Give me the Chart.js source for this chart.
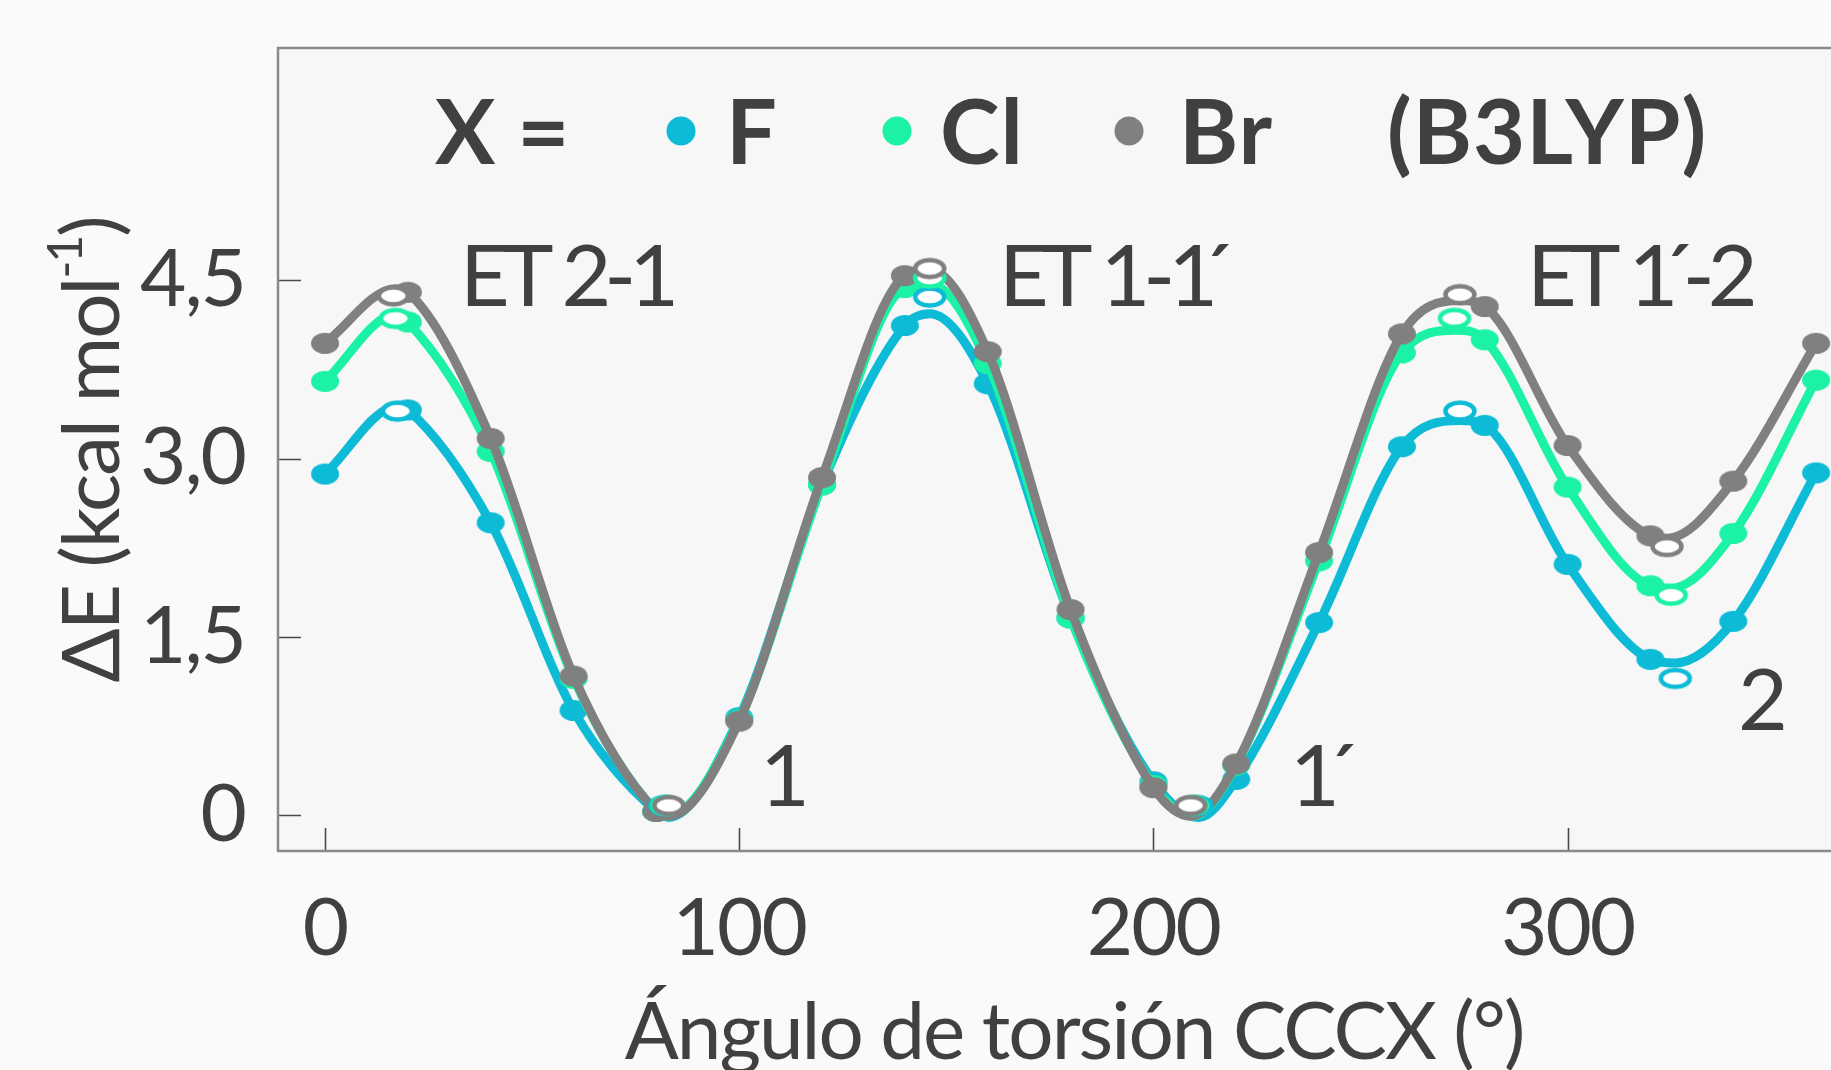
<!DOCTYPE html>
<html lang="es">
<head>
<meta charset="UTF-8">
<title>ΔE vs ángulo de torsión CCCX (B3LYP)</title>
<script src="https://cdn.jsdelivr.net/npm/chart.js"></script>
<style>
  html, body { margin: 0; padding: 0; background: #fafafa; }
  canvas { display: block; }
</style>
</head>
<body>
<canvas id="chartTorsion" width="1831" height="1070"></canvas>
<script>
// scanned torsion angles (deg) - filled dots
const angles = [0, 20, 40, 60, 80, 100, 120, 140, 160, 180, 200, 220, 240, 260, 280, 300, 320, 340, 360];

// ΔE (kcal/mol) at each scanned angle
const fluor = [2.87, 3.41, 2.46, 0.88, 0.03, 0.82, 2.78, 4.12, 3.63, 1.66, 0.28, 0.30, 1.62, 3.10, 3.28, 2.11, 1.31, 1.63, 2.88];
const chlor = [3.65, 4.15, 3.06, 1.15, 0.03, 0.80, 2.78, 4.44, 3.80, 1.66, 0.25, 0.42, 2.14, 3.89, 4.00, 2.76, 1.93, 2.37, 3.66];
const brom  = [3.97, 4.40, 3.17, 1.17, 0.03, 0.79, 2.84, 4.54, 3.90, 1.73, 0.23, 0.43, 2.21, 4.05, 4.28, 3.11, 2.35, 2.81, 3.97];

// turning points of the fitted curves
const fluorTurnX = [17.5, 83, 146, 211, 274, 326];
const fluorTurnY = [3.44, -0.02, 4.22, -0.02, 3.32, 1.28];
const chlorTurnX = [17, 82.5, 146, 209.5, 273, 325];
const chlorTurnY = [4.21, -0.01, 4.47, -0.01, 4.08, 1.91];
const bromTurnX  = [17, 83, 146, 209, 274, 324];
const bromTurnY  = [4.43, -0.01, 4.59, -0.01, 4.33, 2.33];

// optimized stationary points (open markers)
const fluorStatX = [17.5, 82, 146, 210.5, 274, 326];
const fluorStatY = [3.40, 0.08, 4.36, 0.08, 3.40, 1.15];
const chlorStatX = [17, 82.5, 146, 209.5, 272.7, 325];
const chlorStatY = [4.18, 0.08, 4.52, 0.08, 4.18, 1.85];
const bromStatX  = [16.5, 83, 146, 209, 274, 324];
const bromStatY  = [4.37, 0.08, 4.60, 0.08, 4.38, 2.26];

const xTicks = [0, 100, 200, 300];
const yTicks = [0, 1.5, 3.0, 4.5];

const TEXT = '#404040';
const FONT = 'Lato, "Open Sans", sans-serif';

// ellipse shaped markers (figure is slightly stretched horizontally)
function ellipse(w, h, fill, stroke, lw) {
    const c = document.createElement('canvas');
    c.width = w + 2 * (lw || 0) + 2;
    c.height = h + 2 * (lw || 0) + 2;
    const g = c.getContext('2d');
    g.beginPath();
    g.ellipse(c.width / 2, c.height / 2, w / 2, h / 2, 0, 0, 2 * Math.PI);
    g.fillStyle = fill;
    g.fill();
    if (stroke) { g.lineWidth = lw; g.strokeStyle = stroke; g.stroke(); }
    return c;
}

const series = [
    { name: 'F',  color: '#0EBBD6', dots: fluor, turnX: fluorTurnX, turnY: fluorTurnY, statX: fluorStatX, statY: fluorStatY },
    { name: 'Cl', color: '#1CF2A6', dots: chlor, turnX: chlorTurnX, turnY: chlorTurnY, statX: chlorStatX, statY: chlorStatY },
    { name: 'Br', color: '#808080', dots: brom,  turnX: bromTurnX,  turnY: bromTurnY,  statX: bromStatX,  statY: bromStatY }
];

function linePoints(s) {
    const pts = angles.map((a, i) => ({ x: a, y: s.dots[i], dot: true }));
    s.turnX.forEach((x, i) => pts.push({ x: x, y: s.turnY[i], dot: false }));
    return pts.sort((p, q) => p.x - q.x);
}

const datasets = [];
// open markers on top, Br above Cl above F
series.slice().reverse().forEach((s, k) => {
    datasets.push({
        label: s.name + ' est.',
        data: s.statX.map((x, i) => ({ x: x, y: s.statY[i] })),
        showLine: false,
        pointStyle: ellipse(29, 17, '#ffffff', s.color, 4.5),
        pointRadius: 10,
        order: k
    });
});
series.slice().reverse().forEach((s, k) => {
    datasets.push({
        label: s.name,
        data: linePoints(s),
        borderColor: s.color,
        borderWidth: 9,
        cubicInterpolationMode: 'monotone',
        pointStyle: ellipse(28, 21, s.color),
        pointRadius: ctx => (ctx.raw && ctx.raw.dot) ? 10 : 0,
        order: 3 + k
    });
});

// draws text; the acute prime (´) sits tight against the preceding digit
function label(ctx, text, x, y, size, weight, spacing) {
    ctx.font = (weight || 'normal') + ' ' + size + 'px ' + FONT;
    ctx.letterSpacing = spacing || '0px';
    ctx.fillStyle = TEXT;
    const parts = text.split('´');
    let px = x;
    parts.forEach((p, i) => {
        if (i > 0) {
            px -= 12;
            ctx.fillText('´', px, y);
            px += ctx.measureText('´').width - 4;
        }
        ctx.fillText(p, px, y);
        px += ctx.measureText(p).width;
    });
}

const decor = {
    id: 'decor',
    beforeLayout(chart) { chart.ctx.letterSpacing = '-2px'; },
    beforeDraw(chart) {
        const { ctx, chartArea: a } = chart;
        ctx.save();
        ctx.fillStyle = '#f7f7f7';
        ctx.fillRect(a.left, a.top, a.right - a.left, a.bottom - a.top);
        ctx.restore();
        ctx.letterSpacing = '-2px';
    },
    beforeDatasetsDraw(chart) {
        const { ctx, chartArea: a, scales } = chart;
        ctx.save();
        // inward ticks
        ctx.strokeStyle = '#4a4a4a';
        ctx.lineWidth = 1.6;
        ctx.beginPath();
        yTicks.forEach(v => {
            const py = Math.round(scales.y.getPixelForValue(v)) + 0.5;
            ctx.moveTo(a.left, py); ctx.lineTo(a.left + 23, py);
        });
        xTicks.forEach(v => {
            const px = Math.round(scales.x.getPixelForValue(v)) + 0.5;
            ctx.moveTo(px, a.bottom); ctx.lineTo(px, a.bottom - 23);
        });
        ctx.stroke();
        // frame: left, top, bottom
        ctx.strokeStyle = '#8a8a8a';
        ctx.lineWidth = 2.5;
        ctx.beginPath();
        ctx.moveTo(a.right + 5, a.top); ctx.lineTo(a.left, a.top);
        ctx.lineTo(a.left, a.bottom); ctx.lineTo(a.right + 5, a.bottom);
        ctx.stroke();
        ctx.restore();
    },
    afterDraw(chart) {
        const ctx = chart.ctx;
        ctx.save();
        ctx.textBaseline = 'alphabetic';
        ctx.textAlign = 'left';

        // legend line
        label(ctx, 'X =', 435, 164, 90, 'bold', '0px');
        const legendX = [681, 897, 1129];
        const legendText = [726, 940, 1179];
        series.forEach((s, i) => {
            ctx.beginPath();
            ctx.arc(legendX[i], 131, 14.5, 0, 2 * Math.PI);
            ctx.fillStyle = s.color;
            ctx.fill();
            label(ctx, s.name, legendText[i], 164, 90, 'bold', '1px');
        });
        label(ctx, '(B3LYP)', 1387, 164, 90, 'bold', '1px');

        // transition states and minima
        label(ctx, 'ET 2-1', 460, 306, 86, 'normal', '-7px');
        label(ctx, 'ET 1-1´', 999, 306, 86, 'normal', '-7px');
        label(ctx, 'ET 1´-2', 1527, 306, 86, 'normal', '-7px');
        label(ctx, '1', 760, 806, 86);
        label(ctx, '1´', 1290, 806, 86, 'normal', '-4px');
        label(ctx, '2', 1738, 730, 86);

        // x axis title
        ctx.textAlign = 'center';
        label(ctx, 'Ángulo de torsión CCCX (°)', 1074, 1059, 80, 'normal', '-2px');

        // y axis title with superscript
        ctx.translate(90, 450);
        ctx.rotate(-Math.PI / 2);
        ctx.textAlign = 'left';
        const main = 'ΔE (kcal mol', sup = '-1', close = ')';
        ctx.letterSpacing = '-2px';
        ctx.font = '80px ' + FONT;
        const w1 = ctx.measureText(main).width, w3 = ctx.measureText(close).width;
        ctx.font = '48px ' + FONT;
        const w2 = ctx.measureText(sup).width;
        const x0 = -(w1 + w2 + w3) / 2;
        label(ctx, main, x0, 29, 80, 'normal', '-2px');
        label(ctx, sup, x0 + w1, -8, 48, 'normal', '-2px');
        label(ctx, close, x0 + w1 + w2, 29, 80, 'normal', '-2px');
        ctx.restore();
    }
};

new Chart(document.getElementById('chartTorsion'), {
    type: 'line',
    data: { datasets: datasets },
    options: {
        responsive: false,
        animation: false,
        events: [],
        layout: { autoPadding: false, padding: { top: 48, right: 0, left: 0, bottom: 0 } },
        plugins: { legend: { display: false }, tooltip: { enabled: false } },
        scales: {
            x: {
                type: 'linear',
                min: -11.35,
                max: 363.6,
                grid: { display: false, drawTicks: false },
                border: { display: false },
                afterBuildTicks: scale => { scale.ticks = xTicks.map(v => ({ value: v })); },
                afterFit: scale => {
                    scale.height = 219;
                    scale.paddingLeft = 0; scale.paddingRight = 0;
                },
                ticks: {
                    color: TEXT,
                    padding: 30,
                    font: { family: FONT, size: 80 },
                    maxRotation: 0
                }
            },
            y: {
                min: -0.303,
                max: 6.456,
                grid: { display: false, drawTicks: false },
                border: { display: false },
                afterBuildTicks: scale => { scale.ticks = yTicks.map(v => ({ value: v })); },
                afterFit: scale => {
                    scale.width = 278;
                    scale.paddingTop = 0; scale.paddingBottom = 0;
                },
                ticks: {
                    color: TEXT,
                    padding: 33,
                    font: { family: FONT, size: 80 },
                    callback: v => v === 0 ? '0' : v.toFixed(1).replace('.', ',')
                }
            }
        }
    },
    plugins: [decor]
});
</script>
</body>
</html>
